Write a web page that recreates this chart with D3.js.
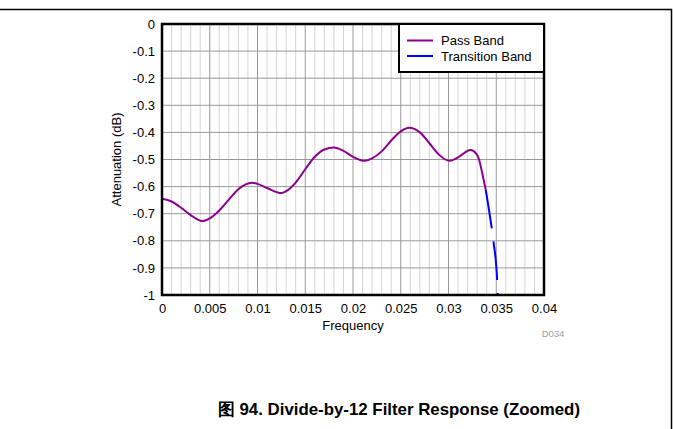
<!DOCTYPE html>
<html><head><meta charset="utf-8">
<script src="https://cdn.jsdelivr.net/npm/d3@7"></script>
<style>body{margin:0;background:#fff}svg{display:block}text{font-family:"Liberation Sans",Arial,sans-serif}</style>
</head><body><svg id="c" width="673" height="429"></svg>
<script>
const passFreq = [0,0.001,0.002,0.003,0.0042,0.005,0.006,0.007,0.008,0.0094,0.010,0.011,0.0125,0.013,0.014,0.015,0.016,0.017,0.018,0.019,0.020,0.0212,0.022,0.023,0.024,0.025,0.0259,0.027,0.028,0.029,0.0301,0.031,0.0323,0.0329,0.0332,0.0335,0.0339];
const passAtt  = [-0.645,-0.655,-0.678,-0.705,-0.727,-0.717,-0.688,-0.648,-0.610,-0.586,-0.590,-0.605,-0.624,-0.617,-0.585,-0.536,-0.490,-0.463,-0.456,-0.468,-0.490,-0.505,-0.496,-0.470,-0.430,-0.396,-0.383,-0.400,-0.440,-0.482,-0.505,-0.492,-0.465,-0.478,-0.500,-0.545,-0.612];
const transFreq = [0.0339,0.0343,0.0347,0.0351,0.03515];
const transAtt  = [-0.612,-0.70,-0.80,-0.95,-1.0];
const xTicks = [0,0.005,0.01,0.015,0.02,0.025,0.03,0.035,0.04];
const xTickLabels = ["0","0.005","0.01","0.015","0.02","0.025","0.03","0.035","0.04"];
const yTicks = [0,-0.1,-0.2,-0.3,-0.4,-0.5,-0.6,-0.7,-0.8,-0.9,-1];
const yTickLabels = ["0","-0.1","-0.2","-0.3","-0.4","-0.5","-0.6","-0.7","-0.8","-0.9","-1"];
const seriesNames = ["Pass Band","Transition Band"];
const seriesColors = ["#8b008b","#0000ff"];

const svg = d3.select("#c");
const L=162,R=544,T=24,B=295;
const x = d3.scaleLinear().domain([0,0.04]).range([L,R]);
const y = d3.scaleLinear().domain([-1,0]).range([B,T]);

// figure frame
svg.append("path").attr("d","M0,9.5H671.5V429").attr("fill","none").attr("stroke","#000").attr("stroke-width",1.5);

// minor vertical grid
const minor = d3.range(1,40).map(i=>i*0.001).filter(v=>Math.round(v*1000)%5!==0);
svg.append("g").selectAll("line").data(minor).join("line")
  .attr("x1",d=>x(d)).attr("x2",d=>x(d)).attr("y1",T).attr("y2",B)
  .attr("stroke","#d4d4d4").attr("stroke-width",1);
// major vertical grid
svg.append("g").selectAll("line").data(xTicks.slice(1,-1)).join("line")
  .attr("x1",d=>x(d)).attr("x2",d=>x(d)).attr("y1",T).attr("y2",B)
  .attr("stroke","#999").attr("stroke-width",1);
// horizontal grid
svg.append("g").selectAll("line").data(yTicks.slice(1,-1)).join("line")
  .attr("x1",L).attr("x2",R).attr("y1",d=>y(d)).attr("y2",d=>y(d))
  .attr("stroke","#999").attr("stroke-width",1);

// axes labels via d3 axes
const xAxis = d3.axisBottom(x).tickValues(xTicks).tickSize(0).tickPadding(9).tickFormat((d,i)=>xTickLabels[i]);
const gx = svg.append("g").attr("transform",`translate(0,${B})`).call(xAxis);
gx.select(".domain").remove();
gx.selectAll("text").attr("font-size",13).attr("fill","#000").attr("font-family","Liberation Sans, Arial");
const yAxis = d3.axisLeft(y).tickValues(yTicks).tickSize(0).tickPadding(7).tickFormat((d,i)=>yTickLabels[i]);
const gy = svg.append("g").attr("transform",`translate(${L},0)`).call(yAxis);
gy.select(".domain").remove();
gy.selectAll("text").attr("font-size",13).attr("fill","#000").attr("font-family","Liberation Sans, Arial");

// clip
svg.append("clipPath").attr("id","pc").append("rect").attr("x",L).attr("y",T).attr("width",R-L).attr("height",B-T);

const line = d3.line().x(d=>x(d[0])).y(d=>y(d[1])).curve(d3.curveMonotoneX);
svg.append("path").attr("clip-path","url(#pc)")
  .attr("d",line(passFreq.map((f,i)=>[f,passAtt[i]])))
  .attr("fill","none").attr("stroke",seriesColors[0]).attr("stroke-width",2);
svg.append("path").attr("clip-path","url(#pc)")
  .attr("d",line(transFreq.map((f,i)=>[f,transAtt[i]])))
  .attr("fill","none").attr("stroke",seriesColors[1]).attr("stroke-width",2)
  .attr("stroke-dasharray","39,13");

// plot border
svg.append("rect").attr("x",L).attr("y",T).attr("width",R-L).attr("height",B-T)
  .attr("fill","none").attr("stroke","#000").attr("stroke-width",2.5);

// legend
const lg = svg.append("g");
lg.append("rect").attr("x",399).attr("y",24).attr("width",R-399).attr("height",48)
  .attr("fill","#fff").attr("stroke","#000").attr("stroke-width",2);
seriesNames.forEach((n,i)=>{
  const yy = 40.5 + i*15.5;
  lg.append("line").attr("x1",407).attr("x2",433).attr("y1",yy).attr("y2",yy)
    .attr("stroke",seriesColors[i]).attr("stroke-width",2);
  lg.append("text").attr("x",441).attr("y",yy+4.5).attr("font-size",13).text(n);
});

// axis titles
svg.append("text").attr("x",353).attr("y",330).attr("text-anchor","middle").attr("font-size",13).text("Frequency");
svg.append("text").attr("transform",`translate(121,${(T+B)/2}) rotate(-90)`).attr("text-anchor","middle").attr("font-size",13).text("Attenuation (dB)");
svg.append("text").attr("x",553).attr("y",337).attr("text-anchor","middle").attr("font-size",9.5).attr("fill","#a0a0a0").text("D034");

// caption
svg.append("text").attr("x",218).attr("y",415).attr("font-size",17).attr("font-weight","bold")
  .attr("textLength",362).attr("lengthAdjust","spacingAndGlyphs")
  .text("图 94. Divide-by-12 Filter Response (Zoomed)");
</script></body></html>
